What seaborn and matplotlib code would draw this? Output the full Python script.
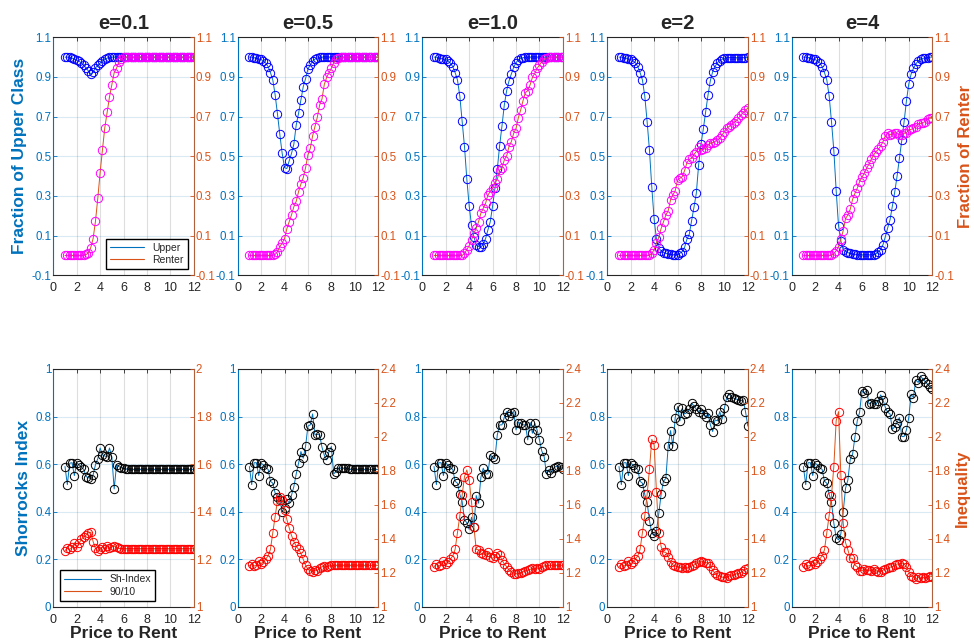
import matplotlib
matplotlib.use("Agg")
import matplotlib.pyplot as plt
import seaborn as sns
from matplotlib.lines import Line2D

# price-to-rent grid (1 to 12, step 0.2)
x_vals = [1.0, 1.2, 1.4, 1.6, 1.8, 2.0, 2.2, 2.4, 2.6, 2.8,
          3.0, 3.2, 3.4, 3.6, 3.8, 4.0, 4.2, 4.4, 4.6, 4.8,
          5.0, 5.2, 5.4, 5.6, 5.8, 6.0, 6.2, 6.4, 6.6, 6.8,
          7.0, 7.2, 7.4, 7.6, 7.8, 8.0, 8.2, 8.4, 8.6, 8.8,
          9.0, 9.2, 9.4, 9.6, 9.8, 10.0, 10.2, 10.4, 10.6, 10.8,
          11.0, 11.2, 11.4, 11.6, 11.8, 12.0]

e_labels = ["e=0.1", "e=0.5", "e=1.0", "e=2", "e=4"]

# ---- fraction of upper class ----
upper_e01 = [1.0, 1.0, 1.0, 0.995, 0.99, 0.985, 0.98, 0.97, 0.96, 0.945,
             0.93, 0.915, 0.925, 0.945, 0.96, 0.97, 0.98, 0.99, 0.995, 1.0,
             1.0, 1.0, 1.0, 1.0, 1.0, 1.0, 1.0, 1.0, 1.0, 1.0,
             1.0, 1.0, 1.0, 1.0, 1.0, 1.0, 1.0, 1.0, 1.0, 1.0,
             1.0, 1.0, 1.0, 1.0, 1.0, 1.0, 1.0, 1.0, 1.0, 1.0,
             1.0, 1.0, 1.0, 1.0, 1.0, 1.0]
upper_e05 = [1.0, 1.0, 0.997, 0.995, 0.99, 0.989, 0.98, 0.97, 0.952, 0.922,
             0.885, 0.81, 0.713, 0.61, 0.515, 0.443, 0.438, 0.477, 0.515, 0.562,
             0.658, 0.717, 0.784, 0.851, 0.892, 0.94, 0.96, 0.98, 0.99, 0.995,
             1.0, 1.0, 1.0, 1.0, 1.0, 1.0, 1.0, 1.0, 1.0, 1.0,
             1.0, 1.0, 1.0, 1.0, 1.0, 1.0, 1.0, 1.0, 1.0, 1.0,
             1.0, 1.0, 1.0, 1.0, 1.0, 1.0]
upper_e10 = [1.0, 1.0, 0.997, 0.993, 0.99, 0.989, 0.98, 0.97, 0.952, 0.922,
             0.885, 0.804, 0.676, 0.549, 0.384, 0.25, 0.152, 0.095, 0.053, 0.045,
             0.041, 0.056, 0.085, 0.129, 0.17, 0.25, 0.339, 0.434, 0.554, 0.653,
             0.759, 0.831, 0.88, 0.915, 0.949, 0.972, 0.986, 0.994, 0.997, 1.0,
             1.0, 1.0, 1.0, 1.0, 1.0, 1.0, 1.0, 1.0, 1.0, 1.0,
             1.0, 1.0, 1.0, 1.0, 1.0, 1.0]
upper_e2 = [1.0, 1.0, 0.998, 0.995, 0.99, 0.989, 0.98, 0.972, 0.952, 0.922,
            0.885, 0.804, 0.675, 0.532, 0.344, 0.182, 0.082, 0.036, 0.024, 0.014,
            0.011, 0.008, 0.006, 0.004, 0.003, 0.003, 0.011, 0.02, 0.041, 0.082,
            0.107, 0.176, 0.243, 0.313, 0.458, 0.562, 0.638, 0.725, 0.809, 0.882,
            0.927, 0.952, 0.972, 0.982, 0.989, 0.994, 0.997, 0.998, 0.998, 0.997,
            0.997, 0.996, 0.995, 0.998, 0.997, 1.0]
upper_e4 = [1.0, 1.0, 0.998, 0.995, 0.99, 0.989, 0.98, 0.972, 0.952, 0.922,
            0.885, 0.804, 0.675, 0.529, 0.327, 0.15, 0.073, 0.028, 0.02, 0.014,
            0.011, 0.008, 0.006, 0.004, 0.003, 0.003, 0.003, 0.003, 0.003, 0.003,
            0.003, 0.008, 0.02, 0.03, 0.055, 0.095, 0.14, 0.18, 0.25, 0.32,
            0.40, 0.49, 0.58, 0.675, 0.78, 0.865, 0.915, 0.944, 0.966, 0.98,
            0.989, 0.994, 0.996, 0.998, 1.0, 1.0]

# ---- fraction of renter ----
renter_e01 = [0.0, 0.0, 0.0, 0.0, 0.0, 0.0, 0.0, 0.0, 0.0, 0.005,
              0.012, 0.04, 0.085, 0.172, 0.288, 0.418, 0.534, 0.645, 0.722, 0.80,
              0.861, 0.922, 0.944, 0.974, 0.99, 1.0, 1.0, 1.0, 1.0, 1.0,
              1.0, 1.0, 1.0, 1.0, 1.0, 1.0, 1.0, 1.0, 1.0, 1.0,
              1.0, 1.0, 1.0, 1.0, 1.0, 1.0, 1.0, 1.0, 1.0, 1.0,
              1.0, 1.0, 1.0, 1.0, 1.0, 1.0]
renter_e05 = [0.0, 0.0, 0.0, 0.0, 0.0, 0.0, 0.0, 0.0, 0.0, 0.0,
              0.0, 0.005, 0.02, 0.045, 0.062, 0.085, 0.135, 0.17, 0.205, 0.246,
              0.273, 0.322, 0.36, 0.392, 0.443, 0.508, 0.54, 0.603, 0.65, 0.697,
              0.759, 0.789, 0.863, 0.898, 0.922, 0.944, 0.972, 0.99, 0.995, 1.0,
              1.0, 1.0, 1.0, 1.0, 1.0, 1.0, 1.0, 1.0, 1.0, 1.0,
              1.0, 1.0, 1.0, 1.0, 1.0, 1.0]
renter_e10 = [0.0, 0.0, 0.0, 0.0, 0.0, 0.0, 0.0, 0.0, 0.0, 0.0,
              0.0, 0.0, 0.0, 0.01, 0.03, 0.05, 0.078, 0.112, 0.137, 0.17,
              0.213, 0.238, 0.263, 0.305, 0.322, 0.339, 0.367, 0.384, 0.431, 0.44,
              0.482, 0.502, 0.549, 0.574, 0.616, 0.641, 0.695, 0.734, 0.781, 0.821,
              0.831, 0.86, 0.898, 0.918, 0.944, 0.96, 0.977, 0.989, 0.995, 1.0,
              1.0, 1.0, 1.0, 1.0, 1.0, 1.0]
renter_e2 = [0.0, 0.0, 0.0, 0.0, 0.0, 0.0, 0.0, 0.0, 0.0, 0.0,
             0.0, 0.0, 0.0, 0.0, 0.01, 0.03, 0.065, 0.092, 0.137, 0.17,
             0.204, 0.226, 0.28, 0.305, 0.327, 0.381, 0.389, 0.398, 0.428, 0.468,
             0.485, 0.49, 0.51, 0.524, 0.545, 0.532, 0.535, 0.54, 0.557, 0.566,
             0.569, 0.574, 0.582, 0.591, 0.608, 0.624, 0.641, 0.65, 0.658, 0.67,
             0.68, 0.692, 0.708, 0.72, 0.734, 0.742]
renter_e4 = [0.0, 0.0, 0.0, 0.0, 0.0, 0.0, 0.0, 0.0, 0.0, 0.0,
             0.0, 0.0, 0.0, 0.01, 0.024, 0.045, 0.082, 0.125, 0.187, 0.204,
             0.233, 0.283, 0.313, 0.339, 0.372, 0.394, 0.414, 0.44, 0.461, 0.485,
             0.507, 0.524, 0.535, 0.552, 0.574, 0.603, 0.616, 0.608, 0.613, 0.619,
             0.616, 0.608, 0.608, 0.616, 0.619, 0.633, 0.636, 0.641, 0.65, 0.663,
             0.666, 0.67, 0.675, 0.687, 0.692, 0.692]

# ---- Shorrocks index ----
shidx_e01 = [0.59, 0.514, 0.604, 0.606, 0.552, 0.606, 0.597, 0.587, 0.578, 0.548,
             0.543, 0.539, 0.555, 0.597, 0.623, 0.668, 0.639, 0.634, 0.632, 0.668,
             0.629, 0.496, 0.597, 0.59, 0.585, 0.583, 0.58, 0.578, 0.578, 0.578,
             0.578, 0.578, 0.578, 0.578, 0.578, 0.578, 0.578, 0.578, 0.578, 0.578,
             0.578, 0.578, 0.578, 0.578, 0.578, 0.578, 0.578, 0.578, 0.578, 0.578,
             0.578, 0.578, 0.578, 0.578, 0.578, 0.578]
shidx_e05 = [0.59, 0.514, 0.606, 0.606, 0.552, 0.604, 0.597, 0.585, 0.578, 0.528,
             0.52, 0.478, 0.464, 0.45, 0.40, 0.415, 0.452, 0.436, 0.47, 0.506,
             0.559, 0.604, 0.653, 0.625, 0.676, 0.76, 0.765, 0.811, 0.723, 0.725,
             0.723, 0.671, 0.637, 0.618, 0.653, 0.674, 0.559, 0.569, 0.584, 0.583,
             0.583, 0.583, 0.583, 0.578, 0.578, 0.578, 0.578, 0.578, 0.578, 0.578,
             0.578, 0.578, 0.578, 0.578, 0.578, 0.578]
shidx_e10 = [0.59, 0.514, 0.606, 0.606, 0.552, 0.604, 0.597, 0.585, 0.578, 0.528,
             0.52, 0.473, 0.443, 0.366, 0.354, 0.326, 0.377, 0.338, 0.468, 0.436,
             0.545, 0.583, 0.559, 0.559, 0.639, 0.629, 0.623, 0.723, 0.765, 0.765,
             0.797, 0.821, 0.803, 0.814, 0.821, 0.744, 0.775, 0.772, 0.765, 0.765,
             0.702, 0.775, 0.73, 0.772, 0.744, 0.702, 0.655, 0.632, 0.559, 0.576,
             0.564, 0.583, 0.59, 0.592, 0.587, 0.58]
shidx_e2 = [0.59, 0.514, 0.606, 0.606, 0.552, 0.604, 0.597, 0.585, 0.578, 0.528,
            0.52, 0.473, 0.44, 0.363, 0.31, 0.30, 0.32, 0.394, 0.475, 0.529,
            0.54, 0.676, 0.741, 0.676, 0.796, 0.842, 0.782, 0.835, 0.811, 0.817,
            0.83, 0.856, 0.845, 0.83, 0.821, 0.832, 0.811, 0.797, 0.814, 0.765,
            0.737, 0.786, 0.782, 0.821, 0.789, 0.835, 0.881, 0.894, 0.881, 0.877,
            0.874, 0.87, 0.866, 0.87, 0.821, 0.76]
shidx_e4 = [0.59, 0.514, 0.606, 0.606, 0.552, 0.604, 0.597, 0.585, 0.578, 0.528,
            0.52, 0.473, 0.44, 0.352, 0.291, 0.282, 0.307, 0.40, 0.499, 0.534,
            0.62, 0.641, 0.713, 0.782, 0.818, 0.908, 0.898, 0.912, 0.853, 0.859,
            0.852, 0.852, 0.866, 0.891, 0.87, 0.838, 0.818, 0.811, 0.746, 0.758,
            0.775, 0.796, 0.716, 0.716, 0.744, 0.796, 0.894, 0.88, 0.954, 0.943,
            0.971, 0.957, 0.947, 0.936, 0.926, 0.915]

# ---- 90/10 inequality ----
ineq_e01 = [1.237, 1.246, 1.242, 1.25, 1.27, 1.253, 1.267, 1.284, 1.295, 1.302,
            1.312, 1.314, 1.275, 1.246, 1.237, 1.242, 1.253, 1.242, 1.256, 1.246,
            1.253, 1.256, 1.25, 1.246, 1.245, 1.245, 1.245, 1.245, 1.245, 1.245,
            1.245, 1.245, 1.245, 1.245, 1.245, 1.245, 1.245, 1.245, 1.245, 1.245,
            1.245, 1.245, 1.245, 1.245, 1.245, 1.245, 1.245, 1.245, 1.245, 1.245,
            1.245, 1.245, 1.245, 1.245, 1.245, 1.245]
ineq_e05 = [1.241, 1.251, 1.241, 1.246, 1.273, 1.253, 1.266, 1.283, 1.30, 1.339,
            1.437, 1.532, 1.626, 1.645, 1.63, 1.571, 1.515, 1.466, 1.42, 1.385,
            1.358, 1.339, 1.315, 1.28, 1.246, 1.221, 1.214, 1.207, 1.217, 1.214,
            1.227, 1.237, 1.241, 1.237, 1.241, 1.245, 1.245, 1.245, 1.245, 1.245,
            1.245, 1.245, 1.245, 1.245, 1.245, 1.245, 1.245, 1.245, 1.245, 1.245,
            1.245, 1.245, 1.245, 1.245, 1.245, 1.245]
ineq_e10 = [1.237, 1.251, 1.241, 1.245, 1.273, 1.253, 1.266, 1.283, 1.30, 1.339,
            1.437, 1.535, 1.658, 1.767, 1.806, 1.748, 1.616, 1.473, 1.339, 1.336,
            1.315, 1.312, 1.305, 1.322, 1.295, 1.286, 1.30, 1.315, 1.305, 1.276,
            1.253, 1.237, 1.217, 1.207, 1.192, 1.195, 1.197, 1.202, 1.207, 1.214,
            1.217, 1.221, 1.227, 1.221, 1.231, 1.221, 1.237, 1.241, 1.245, 1.245,
            1.245, 1.245, 1.245, 1.245, 1.245, 1.245]
ineq_e2 = [1.237, 1.251, 1.241, 1.245, 1.273, 1.253, 1.266, 1.283, 1.30, 1.339,
           1.437, 1.535, 1.662, 1.809, 1.986, 1.953, 1.675, 1.437, 1.354, 1.322,
           1.322, 1.295, 1.266, 1.246, 1.241, 1.237, 1.234, 1.227, 1.234, 1.227,
           1.237, 1.241, 1.246, 1.256, 1.266, 1.27, 1.266, 1.26, 1.26, 1.241,
           1.217, 1.197, 1.188, 1.182, 1.175, 1.175, 1.171, 1.182, 1.188, 1.188,
           1.195, 1.197, 1.202, 1.214, 1.221, 1.227]
ineq_e4 = [1.237, 1.251, 1.241, 1.245, 1.273, 1.253, 1.266, 1.283, 1.30, 1.336,
           1.437, 1.538, 1.655, 1.826, 2.096, 2.149, 1.777, 1.493, 1.378, 1.336,
           1.286, 1.286, 1.246, 1.237, 1.214, 1.214, 1.221, 1.217, 1.217, 1.214,
           1.221, 1.214, 1.207, 1.207, 1.217, 1.225, 1.227, 1.234, 1.237, 1.246,
           1.253, 1.253, 1.26, 1.253, 1.237, 1.207, 1.182, 1.175, 1.162, 1.175,
           1.168, 1.175, 1.168, 1.178, 1.182, 1.178]

upper_all = [upper_e01, upper_e05, upper_e10, upper_e2, upper_e4]
renter_all = [renter_e01, renter_e05, renter_e10, renter_e2, renter_e4]
shidx_all = [shidx_e01, shidx_e05, shidx_e10, shidx_e2, shidx_e4]
ineq_all = [ineq_e01, ineq_e05, ineq_e10, ineq_e2, ineq_e4]

BLUE = "#0072BD"
ORANGE = "#D95319"
BROWN = "#B0603A"
DARK = "#262626"

sns.set_style("white")
plt.rcParams["font.family"] = ["Liberation Sans", "DejaVu Sans"]
plt.rcParams["axes.unicode_minus"] = False


def draw(ax, y, line_color, marker_color):
    sns.lineplot(x=x_vals, y=y, ax=ax, color=line_color, linewidth=0.7,
                 marker="o", markersize=6, markerfacecolor="none",
                 markeredgecolor=marker_color, markeredgewidth=0.7,
                 estimator=None, legend=False)


def style(ax, ax2, lticks, llabels, rticks, rlabels):
    ax.set_xlim(0, 12)
    ax.set_xticks([0, 2, 4, 6, 8, 10, 12])
    ax.set_xticklabels(["0", "2", "4", "6", "8", "10", "12"])
    ax.set_ylim(lticks[0], lticks[-1])
    ax.set_yticks(lticks)
    ax.set_yticklabels(llabels)
    ax2.set_ylim(rticks[0], rticks[-1])
    ax2.set_yticks(rticks)
    ax2.set_yticklabels(rlabels)
    ax.xaxis.grid(True, color=DARK, alpha=0.15, linewidth=0.8)
    ax.yaxis.grid(True, color=BLUE, alpha=0.15, linewidth=0.8)
    ax.tick_params(axis="x", direction="in", length=3, colors=DARK,
                   labelsize=9, top=True, width=0.6, pad=5)
    ax.tick_params(axis="y", direction="in", length=3, colors=BLUE,
                   labelsize=8.3, width=0.6, pad=1.5)
    ax2.tick_params(axis="y", direction="in", length=3, colors=ORANGE,
                    labelsize=8.3, width=0.6, pad=1.5)
    ax.spines["left"].set_color(BLUE)
    ax.spines["right"].set_visible(False)
    ax.spines["top"].set_color(DARK)
    ax.spines["bottom"].set_color(DARK)
    for s in ["left", "top", "bottom"]:
        ax2.spines[s].set_visible(False)
    ax2.spines["right"].set_color(BROWN)
    for sp in list(ax.spines.values()) + list(ax2.spines.values()):
        sp.set_linewidth(0.8)
    ax.set_xlabel("")
    ax.set_ylabel("")
    ax2.set_ylabel("")


fig = plt.figure(figsize=(9.74, 6.44), dpi=100)
lefts = [0.0547, 0.2440, 0.4336, 0.6235, 0.8128]
w = 0.1443
h = 0.3696
top_b = 0.5725
bot_b = 0.0575

top_lt = [-0.1, 0.1, 0.3, 0.5, 0.7, 0.9, 1.1]
top_ll = ["-0.1", "0.1", "0.3", "0.5", "0.7", "0.9", "1.1"]
bot_lt = [0, 0.2, 0.4, 0.6, 0.8, 1.0]
bot_ll = ["0", "0.2", "0.4", "0.6", "0.8", "1"]

for i in range(5):
    # top row: class composition
    ax = fig.add_axes([lefts[i], top_b, w, h])
    ax2 = ax.twinx()
    draw(ax, upper_all[i], BLUE, "#0000FF")
    draw(ax2, renter_all[i], ORANGE, "#FF00FF")
    style(ax, ax2, top_lt, top_ll, top_lt, top_ll)
    ax.set_title(e_labels[i], fontsize=14.5, fontweight="bold", pad=6)
    if i == 0:
        ax.set_ylabel("Fraction of Upper Class", fontsize=12.5,
                      fontweight="bold", color=BLUE, labelpad=3)
        handles = [Line2D([], [], color=BLUE, lw=0.8),
                   Line2D([], [], color=ORANGE, lw=0.8)]
        ax.legend(handles, ["Upper", "Renter"], loc="lower right",
                  fontsize=7.5, frameon=True, fancybox=False,
                  edgecolor="black", framealpha=1, handlelength=3.2,
                  borderaxespad=0.6, labelspacing=0.2)
    if i == 4:
        ax2.set_ylabel("Fraction of Renter", fontsize=12,
                       fontweight="bold", color=ORANGE, labelpad=3)

    # bottom row: mobility and inequality
    bx = fig.add_axes([lefts[i], bot_b, w, h])
    bx2 = bx.twinx()
    draw(bx, shidx_all[i], BLUE, "black")
    draw(bx2, ineq_all[i], ORANGE, "#FF0000")
    if i == 0:
        rt = [1.0, 1.2, 1.4, 1.6, 1.8, 2.0]
        rl = ["1", "1.2", "1.4", "1.6", "1.8", "2"]
    else:
        rt = [1.0, 1.2, 1.4, 1.6, 1.8, 2.0, 2.2, 2.4]
        rl = ["1", "1.2", "1.4", "1.6", "1.8", "2", "2.2", "2.4"]
    style(bx, bx2, bot_lt, bot_ll, rt, rl)
    bx.set_xlabel("Price to Rent", fontsize=12.5, fontweight="bold",
                  color=DARK, labelpad=0)
    if i == 0:
        bx.set_ylabel("Shorrocks Index", fontsize=12.5, fontweight="bold",
                      color=BLUE, labelpad=3)
        handles = [Line2D([], [], color=BLUE, lw=0.8),
                   Line2D([], [], color=ORANGE, lw=0.8)]
        bx.legend(handles, ["Sh-Index", "90/10"], loc="lower left",
                  fontsize=7.5, frameon=True, fancybox=False,
                  edgecolor="black", framealpha=1, handlelength=3.6,
                  borderaxespad=0.6, labelspacing=0.2)
    if i == 4:
        bx2.set_ylabel("Inequality", fontsize=12, fontweight="bold",
                       color=ORANGE, labelpad=3)

fig.savefig("out.png", dpi=100)
